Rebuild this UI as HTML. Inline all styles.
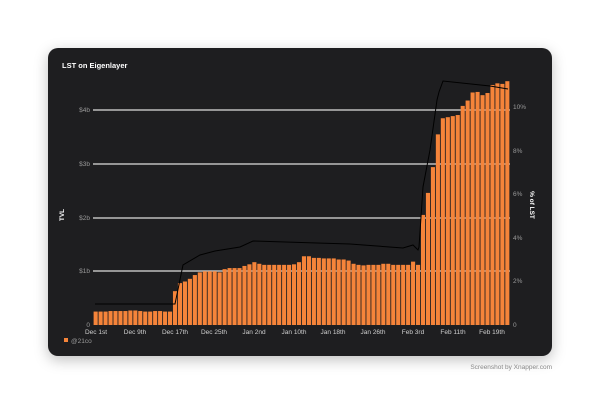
<!DOCTYPE html>
<html><head><meta charset="utf-8"><style>
html,body{margin:0;padding:0;background:#fff;width:600px;height:417px;overflow:hidden}
.card{position:absolute;left:48px;top:48px;width:504px;height:308px;background:#1e1e20;border-radius:10px;box-shadow:0 4px 14px rgba(0,0,0,0.25)}
svg{position:absolute;left:0;top:0}
text{font-family:"Liberation Sans",sans-serif}
</style></head><body>
<div class="card"></div>
<svg width="600" height="417" id="s">
<text x="62" y="68" fill="#fff" font-size="7.5" font-weight="bold">LST on Eigenlayer</text>
<g stroke="#bdbdbd" stroke-width="1.5">
<line x1="93" y1="110" x2="510" y2="110"/><line x1="93" y1="164" x2="510" y2="164"/>
<line x1="93" y1="218" x2="510" y2="218"/><line x1="93" y1="271" x2="510" y2="271"/>
</g>
<g fill="#9a9a9a" font-size="6.5" text-anchor="end">
<text x="90" y="112">$4b</text><text x="90" y="166">$3b</text><text x="90" y="220">$2b</text><text x="90" y="273">$1b</text><text x="90" y="327">0</text>
</g>
<g fill="#9a9a9a" font-size="6.5">
<text x="513" y="109">10%</text><text x="513" y="153">8%</text><text x="513" y="196">6%</text><text x="513" y="240">4%</text><text x="513" y="283">2%</text><text x="513" y="327">0</text>
</g>
<text transform="translate(64,215) rotate(-90)" fill="#fff" font-size="6.5" font-weight="bold" text-anchor="middle">TVL</text>
<text transform="translate(530,205) rotate(90)" fill="#fff" font-size="6.5" font-weight="bold" text-anchor="middle">% of LST</text>
<g id="bars"></g>
<polyline fill="none" stroke="#000" stroke-width="1" points="95,304 175,304 183,265 200,255 215,251 240,247 253,241 317,243 350,244 403,248 413,245 418,250 419,247 423,187 430,150 437,100 439,92 443,81 490,86 508,89"/>
<g fill="#cfcfcf" font-size="6.5" text-anchor="middle">
<text x="96" y="334">Dec 1st</text><text x="135" y="334">Dec 9th</text><text x="175" y="334">Dec 17th</text><text x="214" y="334">Dec 25th</text><text x="254" y="334">Jan 2nd</text><text x="294" y="334">Jan 10th</text><text x="333" y="334">Jan 18th</text><text x="373" y="334">Jan 26th</text><text x="413" y="334">Feb 3rd</text><text x="453" y="334">Feb 11th</text><text x="492" y="334">Feb 19th</text>
</g>
<rect x="64" y="338" width="4" height="4" fill="#f5843a"/>
<text x="71" y="343" fill="#9a9a9a" font-size="6.5">@21co</text>
<text x="552" y="369" fill="#888" font-size="6.5" text-anchor="end">Screenshot by Xnapper.com</text>
</svg>
<script>
var d=[0.25,0.25,0.25,0.26,0.26,0.26,0.26,0.27,0.27,0.26,0.25,0.25,0.26,0.26,0.25,0.25,
0.63,0.78,0.81,0.86,0.93,0.98,1.0,1.0,1.0,0.98,1.04,1.06,1.06,1.06,1.1,1.13,1.17,1.14,1.12,1.12,1.12,1.12,1.12,1.12,1.13,1.17,
1.28,1.28,1.25,1.25,1.24,1.24,1.24,1.22,1.22,1.2,1.14,1.12,1.11,1.12,1.12,1.12,1.14,1.14,1.12,1.12,1.12,1.12,1.18,1.12,
2.05,2.46,2.94,3.55,3.85,3.87,3.89,3.91,4.08,4.18,4.33,4.34,4.28,4.32,4.47,4.5,4.49,4.54];
var g=document.getElementById('bars'),h='';
for(var i=0;i<d.length;i++){var x=93.6+4.96*i,hh=d[i]*53.7;
h+='<rect x="'+x.toFixed(2)+'" y="'+(325-hh).toFixed(2)+'" width="4.1" height="'+hh.toFixed(2)+'" fill="#f5843a"/>';}
g.innerHTML=h;
</script>
</body></html>
